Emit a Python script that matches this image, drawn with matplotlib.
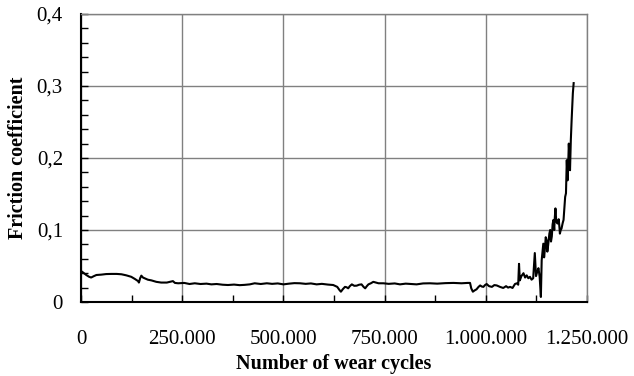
import matplotlib
matplotlib.use('Agg')
import matplotlib.pyplot as plt
from matplotlib.ticker import MultipleLocator, FuncFormatter

plt.rcParams['font.family'] = ['Liberation Serif', 'DejaVu Serif']

# Friction test record
cycles = [
    0, 5000, 13000, 20000, 25000, 32000, 38000, 50000, 62000, 75000,
    88000, 100000, 112000, 124000, 133000, 141000, 143000, 146000, 149000, 153000,
    157000, 165000, 174000, 186000, 198000, 212000, 227000, 232000, 240000, 255000,
    268000, 281000, 295000, 310000, 322000, 335000, 350000, 363000, 378000, 392000,
    404000, 417000, 429000, 444000, 459000, 472000, 486000, 500000, 514000, 527000,
    541000, 555000, 568000, 582000, 595000, 610000, 623000, 633000, 638000, 642000,
    647000, 652000, 656000, 660000, 664000, 669000, 675000, 681000, 687000, 693000,
    698000, 702000, 706000, 710000, 716000, 722000, 735000, 747000, 760000, 775000,
    788000, 802000, 815000, 829000, 845000, 862000, 880000, 900000, 920000, 940000,
    955000, 961000, 964000, 968000, 972000, 977000, 982000, 986000, 990000, 994000,
    998000, 1002000, 1008000, 1015000, 1021000, 1027000, 1035000, 1043000, 1050000, 1055000,
    1060000, 1066000, 1072000, 1077000, 1080000, 1082000, 1084000, 1088000, 1093000, 1097000,
    1101000, 1105000, 1109000, 1113000, 1117000, 1121000, 1124000, 1127000, 1130000, 1133000,
    1136000, 1138000, 1140000, 1142000, 1144000, 1146000, 1148000, 1150000, 1152000, 1154000,
    1157000, 1159000, 1161000, 1163000, 1165000, 1167000, 1169000, 1170500, 1172000, 1174000,
    1177000, 1180000, 1182000, 1183000, 1185000, 1187000, 1190000, 1192000, 1194000, 1196000,
    1198000, 1199000, 1200000, 1202000, 1204000, 1205000, 1207000, 1208000, 1210000, 1212000,
    1213500, 1215000, 1217000,
]
friction = [
    0.043, 0.041, 0.0375, 0.035, 0.034, 0.036, 0.0375, 0.038, 0.0388, 0.039,
    0.039, 0.0385, 0.037, 0.035, 0.032, 0.029, 0.027, 0.033, 0.0366, 0.034,
    0.033, 0.031, 0.030, 0.028, 0.027, 0.027, 0.029, 0.0265, 0.026, 0.0265,
    0.025, 0.026, 0.025, 0.0255, 0.0245, 0.025, 0.024, 0.0236, 0.0242, 0.0234,
    0.0238, 0.0245, 0.026, 0.025, 0.026, 0.0252, 0.0258, 0.0245, 0.0255, 0.0262,
    0.026, 0.0252, 0.0258, 0.0245, 0.0252, 0.0242, 0.0236, 0.021, 0.017, 0.0143,
    0.018, 0.021, 0.0205, 0.019, 0.022, 0.0245, 0.0225, 0.0227, 0.024, 0.0245,
    0.021, 0.019, 0.022, 0.0245, 0.026, 0.028, 0.026, 0.026, 0.0252, 0.0258,
    0.0245, 0.0255, 0.025, 0.0245, 0.0258, 0.026, 0.0255, 0.0262, 0.0265, 0.026,
    0.0265, 0.0265, 0.019, 0.0143, 0.016, 0.0176, 0.021, 0.023, 0.0215, 0.021,
    0.0235, 0.025, 0.022, 0.021, 0.0235, 0.023, 0.021, 0.0195, 0.022, 0.020,
    0.021, 0.0195, 0.025, 0.026, 0.024, 0.053, 0.030, 0.036, 0.040, 0.034,
    0.037, 0.033, 0.035, 0.031, 0.033, 0.068, 0.036, 0.042, 0.047, 0.035,
    0.007, 0.058, 0.070, 0.081, 0.062, 0.074, 0.090, 0.086, 0.070, 0.079,
    0.095, 0.100, 0.084, 0.091, 0.108, 0.114, 0.100, 0.118, 0.130, 0.112,
    0.109, 0.115, 0.103, 0.095, 0.100, 0.102, 0.110, 0.114, 0.130, 0.146,
    0.151, 0.175, 0.197, 0.169, 0.200, 0.220, 0.195, 0.183, 0.225, 0.253,
    0.270, 0.290, 0.304,
]

fig = plt.figure(figsize=(6.34, 3.76), dpi=100)
ax = fig.add_axes([0.1278, 0.1968, 0.7981, 0.7660])

ax.plot(cycles, friction, color='black', linewidth=1.5)

ax.set_xlim(0, 1250000)
ax.set_ylim(0, 0.4)
ax.xaxis.set_major_locator(MultipleLocator(250000))
ax.xaxis.set_minor_locator(MultipleLocator(125000))
ax.yaxis.set_major_locator(MultipleLocator(0.1))
ax.yaxis.set_minor_locator(MultipleLocator(0.02))

ax.xaxis.set_major_formatter(FuncFormatter(lambda v, p: f"{int(round(v)):,}".replace(",", ".")))
ax.yaxis.set_major_formatter(FuncFormatter(lambda v, p: "0" if abs(v) < 1e-9 else f"{v:.1f}".replace(".", ",")))

ax.grid(True, which='major', color='#808080', linewidth=1.0)
ax.set_axisbelow(True)

for side in ['top', 'right']:
    ax.spines[side].set_color('#808080')
    ax.spines[side].set_linewidth(1.0)
for side in ['left', 'bottom']:
    ax.spines[side].set_color('black')
    ax.spines[side].set_linewidth(1.5)

ax.tick_params(axis='both', which='both', direction='in', length=5, width=1,
               top=False, right=False, labelsize=15)
ax.tick_params(axis='x', which='major', pad=20)
ax.tick_params(axis='y', which='major', pad=13)

ax.set_xlabel("Number of wear cycles", fontsize=14.5, fontweight='bold', labelpad=4)
ax.set_ylabel("Friction coefficient", fontsize=14.5, fontweight='bold', labelpad=6)

fig.savefig('out.png', dpi=100)
